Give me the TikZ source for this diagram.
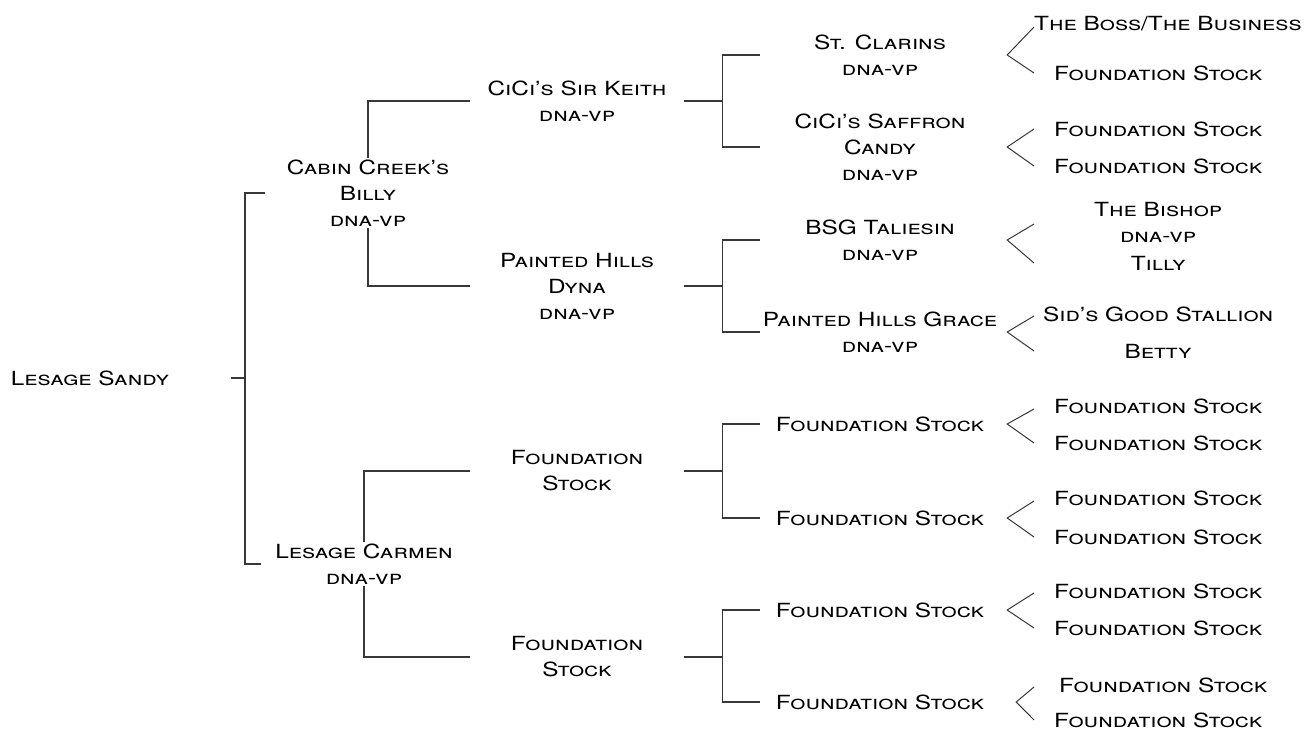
\documentclass[tikz,border=0pt]{standalone}
\usepackage{fontspec}
\setmainfont[FakeStretch=1.25]{TeX Gyre Heros}
\begin{document}
\begin{tikzpicture}[x=1pt, y=-1pt,
    every node/.style={font=\fontsize{19.5}{26}\selectfont\scshape, align=center, inner sep=2pt},
    genone/.style={minimum width=206pt},
    gentwo/.style={minimum width=214pt},
    genthree/.style={minimum width=240pt},
    genfour/.style={minimum width=248pt, inner sep=0pt, anchor=west},
    link/.style={draw=black!78, line width=1.3pt}]
    \useasboundingbox (0,0) rectangle (1310,736);
    % dam and her parents
    \node (sandy) at (90,378) {Lesage Sandy};
    \node[genone] (billy) at (368,193) {Cabin Creek's\\Billy\\dna-vp};
    \node[genone] (carmen) at (364,564) {Lesage Carmen\\dna-vp};
    % grandparents
    \node[gentwo] (keith) at (577,101) {CiCi's Sir Keith\\dna-vp};
    \node[gentwo] (dyna) at (577,286) {Painted Hills\\Dyna\\dna-vp};
    \node[gentwo] (fsa) at (577,471) {Foundation\\Stock};
    \node[gentwo] (fsb) at (577,657) {Foundation\\Stock};
    % great grandparents
    \node[genthree] (clarins) at (880,55) {St. Clarins\\dna-vp};
    \node[genthree] (saffron) at (880,147) {CiCi's Saffron\\Candy\\dna-vp};
    \node[genthree] (taliesin) at (880,240) {BSG Taliesin\\dna-vp};
    \node[genthree] (grace) at (880,332) {Painted Hills Grace\\dna-vp};
    \node[genthree] (fsc) at (880,424) {Foundation Stock};
    \node[genthree] (fsd) at (880,518) {Foundation Stock};
    \node[genthree] (fse) at (880,610) {Foundation Stock};
    \node[genthree] (fsf) at (880,702) {Foundation Stock};
    % last generation
    \node[genfour] (boss) at (1034,24) {The Boss/The Business};
    \node[genfour] (fsg) at (1034,73) {Foundation Stock};
    \node[genfour] (fsh) at (1034,129) {Foundation Stock};
    \node[genfour] (fsi) at (1034,166) {Foundation Stock};
    \node[genfour] (bishop) at (1034,222) {The Bishop\\dna-vp};
    \node[genfour] (tilly) at (1034,263) {Tilly};
    \node[genfour] (sid) at (1034,314) {Sid's Good Stallion};
    \node[genfour] (betty) at (1034,351) {Betty};
    \node[genfour] (fsj) at (1034,406) {Foundation Stock};
    \node[genfour] (fsk) at (1034,443) {Foundation Stock};
    \node[genfour] (fsl) at (1034,498) {Foundation Stock};
    \node[genfour] (fsm) at (1034,537) {Foundation Stock};
    \node[genfour] (fsn) at (1034,591) {Foundation Stock};
    \node[genfour] (fso) at (1034,628) {Foundation Stock};
    \node[genfour] (fsp) at (1039,685) {Foundation Stock};
    \node[genfour] (fsq) at (1034,720) {Foundation Stock};
    % brackets
    \coordinate (jsandy) at (245,378);
    \draw[link] ([xshift=60pt]sandy.east) -- (jsandy);
    \draw[link] (billy.west) -| (jsandy) |- (carmen.west);
    \draw[link] (billy.north) |- (keith.west);
    \draw[link] (billy.south) |- (dyna.west);
    \draw[link] (carmen.north) |- (fsa.west);
    \draw[link] (carmen.south) |- (fsb.west);
    \coordinate (jkeith) at ([xshift=38pt]keith.east);
    \coordinate (jdyna) at ([xshift=38pt]dyna.east);
    \coordinate (jfsa) at ([xshift=38pt]fsa.east);
    \coordinate (jfsb) at ([xshift=38pt]fsb.east);
    \draw[link] (keith.east) -- (jkeith);
    \draw[link] (clarins.west) -| (jkeith) |- (saffron.west);
    \draw[link] (dyna.east) -- (jdyna);
    \draw[link] (taliesin.west) -| (jdyna) |- (grace.west);
    \draw[link] (fsa.east) -- (jfsa);
    \draw[link] (fsc.west) -| (jfsa) |- (fsd.west);
    \draw[link] (fsb.east) -- (jfsb);
    \draw[link] (fse.west) -| (jfsb) |- (fsf.west);
    % chevrons
    \coordinate (tclarins) at ([xshift=7pt]clarins.east);
    \coordinate (tsaffron) at ([xshift=7pt]saffron.east);
    \coordinate (ttaliesin) at ([xshift=7pt]taliesin.east);
    \coordinate (tgrace) at ([xshift=7pt]grace.east);
    \coordinate (tfsc) at ([xshift=7pt]fsc.east);
    \coordinate (tfsd) at ([xshift=7pt]fsd.east);
    \coordinate (tfse) at ([xshift=7pt]fse.east);
    \coordinate (tfsf) at ([xshift=16pt]fsf.east);
    \draw[link, line width=1pt] ([yshift=-3pt]boss.west) -- (tclarins) -- (fsg.west);
    \draw[link, line width=1pt] (fsh.west) -- (tsaffron) -- (fsi.west);
    \draw[link, line width=1pt] ([yshift=-2pt]bishop.west) -- (ttaliesin) -- (tilly.west);
    \draw[link, line width=1pt] ([yshift=-2pt]sid.west) -- (tgrace) -- (betty.west);
    \draw[link, line width=1pt] ([yshift=-3pt]fsj.west) -- (tfsc) -- (fsk.west);
    \draw[link, line width=1pt] ([yshift=-3pt]fsl.west) -- (tfsd) -- (fsm.west);
    \draw[link, line width=1pt] ([yshift=-2pt]fsn.west) -- (tfse) -- (fso.west);
    \draw[link, line width=1pt] ([xshift=-5pt,yshift=-2pt]fsp.west) -- (tfsf) -- (fsq.west);
\end{tikzpicture}
\end{document}
